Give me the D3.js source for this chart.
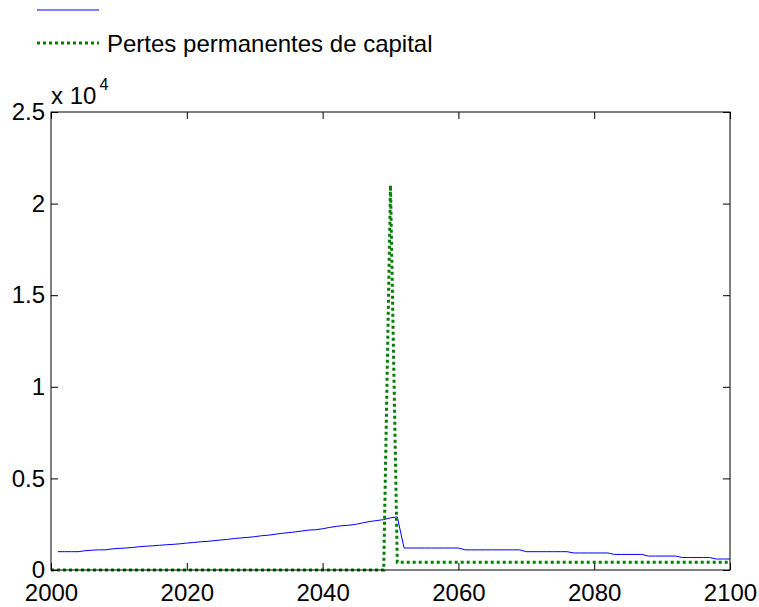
<!DOCTYPE html>
<html>
<head>
<meta charset="utf-8">
<script src="https://cdn.jsdelivr.net/npm/d3@7"></script>
<style>
  body { margin: 0; background: #fff; }
  svg { font-family: "Liberation Sans", Arial, sans-serif; }
</style>
</head>
<body>
<svg id="chart" width="759" height="607"></svg>
<script>
// blue series (no legend label), yearly from 2001
const blueYears = d3.range(2001, 2101);
const blueValues = [
  1000, 1000, 1000, 1000, 1050, 1080, 1100, 1100, 1150, 1180,
  1200, 1230, 1270, 1300, 1320, 1350, 1380, 1400, 1430, 1470,
  1500, 1540, 1560, 1600, 1640, 1670, 1720, 1750, 1780, 1820,
  1870, 1900, 1950, 2000, 2040, 2080, 2130, 2180, 2200, 2250,
  2320, 2380, 2420, 2450, 2500, 2580, 2650, 2700, 2750, 2850,
  2900, 1200, 1200, 1200, 1200, 1200, 1200, 1200, 1200, 1200,
  1100, 1100, 1100, 1100, 1100, 1100, 1100, 1100, 1100, 1000,
  1000, 1000, 1000, 1000, 1000, 1000, 930, 930, 930, 930,
  930, 930, 850, 850, 850, 850, 850, 760, 760, 760,
  760, 760, 680, 680, 680, 680, 680, 600, 600, 600
];
// green series "Pertes permanentes de capital"
const greenYears = [2000, 2049, 2050, 2051, 2100];
const greenValues = [0, 0, 21000, 420, 420];

const xTicks = [2000, 2020, 2040, 2060, 2080, 2100];
const yTicks = [0, 5000, 10000, 15000, 20000, 25000];
const yTickLabels = ["0", "0.5", "1", "1.5", "2", "2.5"];
const legendLabels = ["", "Pertes permanentes de capital"];

const svg = d3.select("#chart");
const mLeft = 51, mRight = 730, mTop = 112, mBottom = 570;

const x = d3.scaleLinear().domain([2000, 2100]).range([mLeft, mRight]);
const y = d3.scaleLinear().domain([0, 25000]).range([mBottom, mTop]);

const tl = 7;

// lines
const blueData = blueYears.map((yr, i) => [yr, blueValues[i]]);
const greenData = greenYears.map((yr, i) => [yr, greenValues[i]]);
const line = d3.line().x(d => x(d[0])).y(d => y(d[1]));

svg.append("path").datum(blueData)
  .attr("d", line).attr("fill", "none")
  .attr("stroke", "#0000ff").attr("stroke-width", 1);

svg.append("path").datum(greenData)
  .attr("d", line).attr("fill", "none")
  .attr("stroke", "#008000").attr("stroke-width", 3)
  .attr("stroke-dasharray", "3,3");

// box
svg.append("rect")
  .attr("x", mLeft).attr("y", mTop)
  .attr("width", mRight - mLeft).attr("height", mBottom - mTop)
  .attr("fill", "none").attr("stroke", "#000").attr("stroke-width", 1);

// axes, ticks inward
const xb = svg.append("g").attr("transform", `translate(0,${mBottom})`)
  .call(d3.axisBottom(x).tickValues(xTicks).tickSizeInner(-tl).tickSizeOuter(0).tickPadding(14)
    .tickFormat(d3.format("d")));
const xt = svg.append("g").attr("transform", `translate(0,${mTop})`)
  .call(d3.axisTop(x).tickValues(xTicks).tickSizeInner(-tl).tickSizeOuter(0).tickFormat(""));
const yl = svg.append("g").attr("transform", `translate(${mLeft},0)`)
  .call(d3.axisLeft(y).tickValues(yTicks).tickSizeInner(-tl).tickSizeOuter(0).tickPadding(6)
    .tickFormat((d, i) => yTickLabels[i]));
const yr = svg.append("g").attr("transform", `translate(${mRight},0)`)
  .call(d3.axisRight(y).tickValues(yTicks).tickSizeInner(-tl).tickSizeOuter(0).tickFormat(""));

[xb, xt, yl, yr].forEach(g => {
  g.select(".domain").remove();
  g.selectAll("line").attr("stroke", "#000");
  g.selectAll("text").attr("font-size", 24).attr("fill", "#000")
    .attr("font-family", "'Liberation Sans', Arial, sans-serif");
});

// exponent label
const ex = svg.append("text").attr("x", 51).attr("y", 104)
  .attr("font-size", 24).attr("fill", "#000");
ex.append("tspan").text("x 10");
ex.append("tspan").attr("font-size", 16).attr("dy", -14).attr("dx", 3).text("4");

// legend
const leg = svg.append("g");
leg.append("line").attr("x1", 37).attr("x2", 99).attr("y1", 10).attr("y2", 10)
  .attr("stroke", "#0000ff").attr("stroke-width", 1);
leg.append("text").attr("x", 107).attr("y", 18).attr("font-size", 24).text(legendLabels[0]);
leg.append("line").attr("x1", 37).attr("x2", 99).attr("y1", 43).attr("y2", 43)
  .attr("stroke", "#008000").attr("stroke-width", 3).attr("stroke-dasharray", "3,3");
leg.append("text").attr("x", 107).attr("y", 52).attr("font-size", 24).attr("fill", "#000")
  .text(legendLabels[1]);
</script>
</body>
</html>
